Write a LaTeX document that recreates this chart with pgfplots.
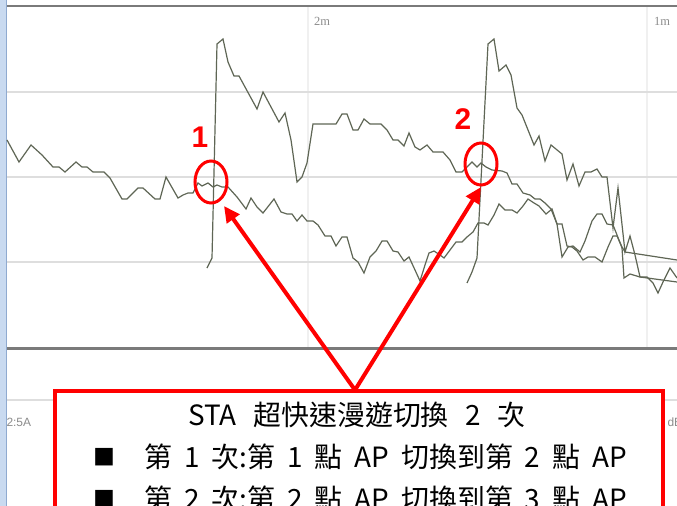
\documentclass[border=0pt]{standalone}
\usepackage{pgfplots}
\pgfplotsset{compat=1.18}
\usepackage{fontspec}
\setmainfont{Liberation Sans}
\newfontfamily\cjk{Noto Sans CJK TC}
\newfontfamily\serifgray{Liberation Serif}
\usetikzlibrary{arrows.meta}

\definecolor{trace}{HTML}{5F6655}
\definecolor{gridh}{HTML}{DEDEDE}
\definecolor{gridv}{HTML}{F0F0F0}
\definecolor{frame}{HTML}{7A7A7A}
\definecolor{barblue}{HTML}{C9DAF0}
\definecolor{baredge}{HTML}{8FAAD0}
\definecolor{labgray}{HTML}{8C8C8C}
\newcommand\gap{\hspace{0.43em}}
\newcommand\wgap{\hspace{0.6em}}

\begin{document}
\begin{tikzpicture}
\begin{axis}[
    scale only axis,
    width=677bp, height=506bp,
    xmin=0, xmax=677, ymin=0, ymax=506,
    y dir=reverse,
    hide axis,
    clip=true,
]
% screen background, frame and grid
\fill[white] (0,0) rectangle (677,506);
\draw[gridv, line width=1.5bp] (308,7) -- (308,347);
\draw[gridv, line width=1.5bp] (647,7) -- (647,347);
\draw[gridh, line width=1.5bp] (7,92) -- (677,92);
\draw[gridh, line width=1.5bp] (7,177) -- (677,177);
\draw[gridh, line width=1.5bp] (7,262) -- (677,262);
\draw[gridh, line width=1.2bp] (7,400) -- (677,400);
\draw[frame, line width=2bp] (7,6) -- (677,6);
\draw[frame, line width=3bp] (7,348) -- (677,348);
\fill[barblue] (0,0) rectangle (6,506);
\draw[baredge, line width=1.5bp] (6.5,0) -- (6.5,506);
\node[font=\serifgray\fontsize{12.5}{13}\selectfont, text=labgray] at (322,21) {2m};
\node[font=\serifgray\fontsize{12.5}{13}\selectfont, text=labgray] at (662,21) {1m};
\node[font=\fontsize{12}{13}\selectfont, text=labgray, anchor=west] at (3,422) {2:5A};
\node[font=\fontsize{12}{13}\selectfont, text=labgray, anchor=west] at (664,422) {dB};

% signal traces
\addplot[trace, line width=1.2bp] coordinates {
(7,140) (19,162) (31,145) (42,155) (53,167) (59,167) (65,172) (76,162) (82,167) (87,167)
(93,172) (104,172) (110,178) (122,199) (127,199) (138,188) (143,188) (155,199) (160,199) (166,177)
(178,198) (183,195) (188,193) (193,193) (198,183) (202,186) (208,183) (213,187) (217,185) (222,187)
(228,187) (237,197) (246,209) (251,198) (257,207) (263,213) (274,199) (281,212) (287,214) (292,214)
(297,221) (302,215) (307,221) (313,221) (318,225) (325,236) (331,236) (336,246) (342,237) (347,237)
(353,258) (358,262) (364,273) (370,257) (376,251) (382,241) (387,241) (393,251) (398,252) (404,261)
(409,257) (415,270) (420,281) (425,265) (429,253) (434,251) (440,255) (444,258) (450,250) (456,242)
(462,242) (467,237) (473,232) (478,223) (484,223) (488,225) (494,215) (499,204) (505,210) (512,210)
(517,213) (523,206) (528,199) (534,203) (539,206) (546,214) (552,209) (557,224) (562,257) (568,247)
(573,246) (580,252) (585,241) (592,221) (597,214) (602,214) (607,224) (613,225) (617,235) (622,248)
(624,278) (630,274) (640,277) (677,282)
};
\addplot[trace, line width=1.2bp] coordinates {
(207,268) (212,258) (217,44) (223,39) (228,62) (234,76) (239,76) (257,109) (263,92) (279,122)
(285,113) (291,140) (297,182) (302,177) (307,163) (313,124) (336,124) (342,114) (347,114) (353,130)
(358,130) (364,119) (370,124) (381,124) (387,130) (393,140) (398,140) (404,146) (409,133) (415,147)
(420,150) (427,145) (433,152) (443,152) (450,160) (456,172) (462,172) (467,167) (472,162) (477,167)
(481,163) (486,167) (492,170) (502,171) (507,173) (512,184) (517,184) (523,193) (530,195) (535,199)
(540,199) (545,203) (551,209) (557,224) (562,224) (567,246) (572,247) (577,251) (583,260) (588,257)
(595,257) (602,262) (608,247) (613,236) (617,236) (622,247) (625,252) (677,260)
};
\addplot[trace, line width=1.2bp] coordinates {
(467,283) (472,272) (477,258) (488,44) (494,39) (499,71) (506,65) (511,75) (517,108) (522,115)
(534,145) (539,136) (545,161) (551,145) (562,154) (567,180) (573,164) (579,186) (585,172) (591,172)
(597,169) (602,177) (607,177) (613,228) (618,188) (625,252) (630,236) (635,255) (640,277) (647,277)
(653,283) (658,293) (663,282) (670,268) (677,278)
};

% annotations
\draw[red, line width=3bp] (211,182) ellipse [x radius=16, y radius=21];
\draw[red, line width=3bp] (481,164) ellipse [x radius=16, y radius=21];
\node[text=red, font=\bfseries\fontsize{30}{32}\selectfont] at (200,137) {1};
\node[text=red, font=\bfseries\fontsize{30}{32}\selectfont] at (463,119) {2};
\draw[red, line width=4bp, -{Triangle[length=16bp, width=15bp]}] (355,390) -- (224,206);
\draw[red, line width=4bp, -{Triangle[length=16bp, width=15bp]}] (355,390) -- (481,187);
\draw[red, line width=3.5bp, fill=white] (55,391) rectangle (663,530);
\node[anchor=base, font=\cjk\fontsize{28}{30}\selectfont] at (357,425) {STA\wgap 超快速漫遊切換\wgap 2\wgap 次};
\node[anchor=base west, font=\cjk\fontsize{22}{24}\selectfont] at (90,465) {■};
\node[anchor=base west, font=\cjk\fontsize{28}{30}\selectfont] at (141,467) {第\gap 1\gap 次:第\gap 1\gap 點\gap AP\gap 切換到第\gap 2\gap 點\gap AP};
\node[anchor=base west, font=\cjk\fontsize{22}{24}\selectfont] at (90,507) {■};
\node[anchor=base west, font=\cjk\fontsize{28}{30}\selectfont] at (141,509) {第\gap 2\gap 次:第\gap 2\gap 點\gap AP\gap 切換到第\gap 3\gap 點\gap AP};
\end{axis}
\pgfresetboundingbox
\useasboundingbox (0,0) rectangle (677bp,506bp);
\end{tikzpicture}
\end{document}
